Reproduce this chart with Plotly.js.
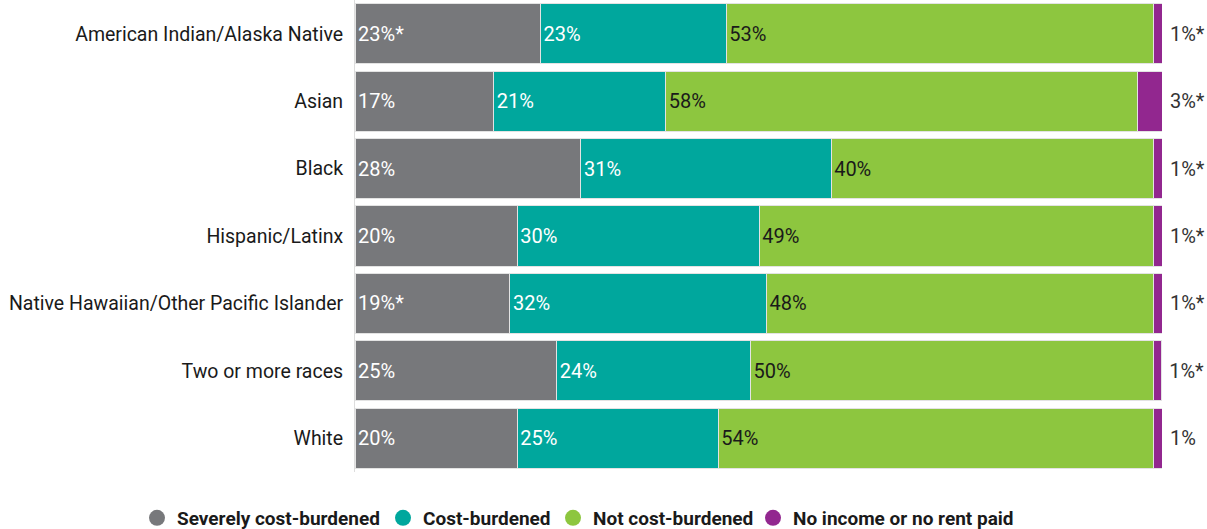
<!DOCTYPE html>
<html>
<head>
<meta charset="utf-8">
<script src="https://cdn.plot.ly/plotly-3.0.1.min.js"></script>
<style>html,body{margin:0;padding:0;background:#fff;} #chart{width:1207px;height:529px;}</style>
</head>
<body>
<div id="chart"></div>
<script>
const categories = ["American Indian/Alaska Native","Asian","Black","Hispanic/Latinx","Native Hawaiian/Other Pacific Islander","Two or more races","White"];
const severe = [23, 17.2, 28, 20.1, 19.2, 25, 20.1];
const burdened = [23, 21.3, 31, 30, 31.8, 24, 24.9];
const notBurdened = [53, 58.5, 40, 48.9, 48, 49.9, 54];
const noIncome = [1, 3, 1, 1, 1, 1, 1];
const severeLabels = ["23%*","17%","28%","20%","19%*","25%","20%"];
const burdenedLabels = ["23%","21%","31%","30%","32%","24%","25%"];
const notBurdenedLabels = ["53%","58%","40%","49%","48%","50%","54%"];
const noIncomeLabels = ["1%*","3%*","1%*","1%*","1%*","1%*","1%"];
const seriesNames = ["Severely cost-burdened","Cost-burdened","Not cost-burdened","No income or no rent paid"];
const colors = ["#77787b","#00a79d","#8dc63f","#92278f"];
const textColors = ["#ffffff","#ffffff","#1a1a1a","#333333"];

const values = [severe, burdened, notBurdened, noIncome];
const labels = [severeLabels, burdenedLabels, notBurdenedLabels, noIncomeLabels];
const font = "Roboto, 'Noto Sans', sans-serif";
const legendIds = ["legend", "legend2", "legend3", "legend4"];
const legendCircleX = [157, 403, 573, 773];

const traces = values.map((v, i) => ({
  type: "bar",
  orientation: "h",
  y: categories,
  x: v,
  name: seriesNames[i],
  text: labels[i],
  textposition: i === 3 ? "outside" : "inside",
  insidetextanchor: "start",
  texttemplate: i === 3 ? " %{text}" : "%{text}",
  hoverinfo: "skip",
  cliponaxis: false,
  constraintext: "none",
  textfont: {family: font, size: 20, color: textColors[i]},
  insidetextfont: {family: font, size: 20, color: textColors[i]},
  outsidetextfont: {family: font, size: 20, color: textColors[i]},
  marker: {color: colors[i], line: {color: "#e3e3e3", width: 1}},
  showlegend: false
}));

seriesNames.forEach((n, i) => traces.push({
  type: "scatter",
  mode: "markers",
  x: [null], y: [null],
  name: n,
  legend: legendIds[i],
  marker: {symbol: "circle", size: 17, color: colors[i]},
  hoverinfo: "skip",
  showlegend: true
}));

const layout = {
  width: 1207, height: 529,
  margin: {l: 355, r: 45, t: 0, b: 57},
  barmode: "stack",
  bargap: 0.11,
  paper_bgcolor: "#fff",
  plot_bgcolor: "#fff",
  font: {family: font, size: 20, color: "#1a1a1a"},
  xaxis: {range: [0, 100], showgrid: false, zeroline: false, showticklabels: false, fixedrange: true},
  yaxis: {autorange: "reversed", showgrid: false, zeroline: false, showline: true, linecolor: "#dddddd", linewidth: 1,
          ticks: "", ticklabelstandoff: 7, tickfont: {family: font, size: 19.5, color: "#1a1a1a"}},
  showlegend: true
};

legendIds.forEach((id, i) => {
  layout[id] = {
    orientation: "h", xref: "container", yref: "container",
    x: (legendCircleX[i] - 20) / 1207, xanchor: "left",
    y: 11 / 529, yanchor: "middle",
    bgcolor: "rgba(0,0,0,0)", borderwidth: 0,
    font: {family: font, size: 19, color: "#1a1a1a", weight: "bold"},
    itemwidth: 30
  };
});

Plotly.newPlot("chart", traces, layout, {displayModeBar: false, staticPlot: true});
</script>
</body>
</html>
